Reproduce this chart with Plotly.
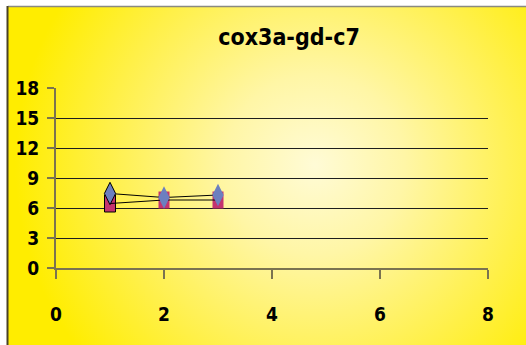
import base64
import plotly.graph_objects as go

# Series data
x_vals = [1, 2, 3]
diamond_vals = [7.45, 7.05, 7.3]
square_vals = [6.45, 6.8, 6.8]
outline_w = [1, 0, 0]

title_text = "cox3a-gd-c7"
x_ticks = [0, 2, 4, 6, 8]
y_ticks = [0, 3, 6, 9, 12, 15, 18]

W, H = 526, 345
L, R, T, B = 56, 38, 88, 77
pw, ph = W - L - R, H - T - B

DIAMOND = "#6C7FBF"
SQUARE = "#C4346F"
AXIS = "#7a7350"
FONT = "DejaVu Sans Condensed, Liberation Sans, sans-serif"

# Chart-area backdrop: radial yellow fill with a framed left/top edge
svg = f"""<svg xmlns='http://www.w3.org/2000/svg' width='{W}' height='{H}' viewBox='0 0 {W} {H}' preserveAspectRatio='none'>
<defs><radialGradient id='g' gradientUnits='userSpaceOnUse' cx='315' cy='165' r='300'>
<stop offset='0' stop-color='#FFFBD6'/>
<stop offset='0.3' stop-color='#FFF6A6'/>
<stop offset='0.7' stop-color='#FFF048'/>
<stop offset='1' stop-color='#FFED00'/>
</radialGradient></defs>
<rect x='0' y='0' width='{W}' height='{H}' fill='white'/>
<rect x='8' y='7' width='{W-8}' height='{H-7}' fill='url(#g)'/>
<line x1='8' y1='6.5' x2='{W}' y2='6.5' stroke='#8a8a80' stroke-width='1.5'/>
<line x1='7.5' y1='6' x2='7.5' y2='{H}' stroke='#4a4226' stroke-width='2'/>
</svg>"""
bg_uri = "data:image/svg+xml;base64," + base64.b64encode(svg.encode()).decode()

fig = go.Figure()

fig.add_trace(go.Scatter(
    x=x_vals, y=square_vals, mode="lines",
    line=dict(color="black", width=1), hoverinfo="skip", showlegend=False,
))
fig.add_trace(go.Scatter(
    x=x_vals, y=diamond_vals, mode="lines+markers",
    line=dict(color="black", width=1),
    marker=dict(symbol="diamond-tall", size=16, color=DIAMOND,
                line=dict(color="black", width=outline_w)),
    showlegend=False,
))

# Tall square markers for the second series, anchored at the data points
for xv, yv, lw in zip(x_vals, square_vals, outline_w):
    fig.add_shape(
        type="rect", xref="x", yref="y", layer="between",
        xsizemode="pixel", ysizemode="pixel", xanchor=xv, yanchor=yv,
        x0=-5.5, x1=5.5, y0=-8.5, y1=8.5,
        fillcolor=SQUARE, line=dict(color="black", width=lw),
    )

fig.add_layout_image(dict(
    source=bg_uri, xref="paper", yref="paper",
    x=-L / pw, y=(ph + T) / ph, sizex=W / pw, sizey=H / ph,
    xanchor="left", yanchor="top", sizing="stretch", layer="below",
))

fig.update_layout(
    width=W, height=H,
    margin=dict(l=L, r=R, t=T, b=B),
    paper_bgcolor="white", plot_bgcolor="rgba(0,0,0,0)",
    title=dict(text=title_text, x=289 / W, xanchor="center",
               y=1 - 37 / H, yanchor="middle", xref="container", yref="container",
               font=dict(family=FONT, size=23, color="black", weight="bold")),
    font=dict(family=FONT, color="black"),
)
fig.update_xaxes(
    range=[0, 8], tickvals=x_ticks,
    showgrid=False, zeroline=False, showline=True, linecolor=AXIS, linewidth=2,
    ticks="outside", ticklen=9, tickcolor=AXIS, tickwidth=2,
    tickfont=dict(family=FONT, size=19, weight="bold"), ticklabelstandoff=19,
)
fig.update_yaxes(
    range=[0, 18], tickvals=y_ticks,
    showgrid=True, gridcolor="#1e1e1e", gridwidth=1, zeroline=False,
    showline=True, linecolor=AXIS, linewidth=2,
    ticks="outside", ticklen=7, tickcolor=AXIS, tickwidth=2,
    tickfont=dict(family=FONT, size=19, weight="bold"), ticklabelstandoff=4,
)

fig.write_html("out.html")
